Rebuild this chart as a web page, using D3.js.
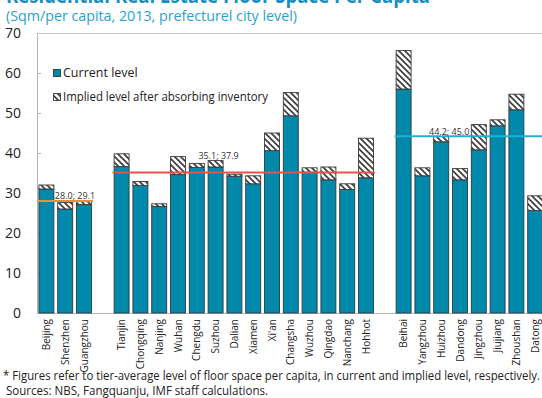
<!DOCTYPE html>
<html>
<head>
<meta charset="utf-8">
<script src="https://cdn.jsdelivr.net/npm/d3@7"></script>
<style>
  html, body { margin: 0; padding: 0; background: #fff; }
  svg { display: block; font-family: "Open Sans", "Noto Sans", sans-serif; }
</style>
</head>
<body>
<svg id="chart" width="542" height="398"></svg>
<script>
// Residential floor space per capita by city, grouped by tier
const cities = [
  "Beijing", "Shenzhen", "Guangzhou",
  "Tianjin", "Chongqing", "Nanjing", "Wuhan", "Chengdu", "Suzhou", "Dalian",
  "Xiamen", "Xi'an", "Changsha", "Wuzhou", "Qingdao", "Nanchang", "Hohhot",
  "Beihai", "Yangzhou", "Huizhou", "Dandong", "Jingzhou", "Jiujiang", "Zhoushan", "Datong"
];
const cityTier = [
  1, 1, 1,
  2, 2, 2, 2, 2, 2, 2, 2, 2, 2, 2, 2, 2, 2,
  3, 3, 3, 3, 3, 3, 3, 3
];
const currentLevel = [
  31.0, 26.0, 27.1,
  36.6, 31.9, 26.6, 34.6, 36.4, 36.5, 34.2, 32.3, 40.6, 49.3, 35.2, 33.3, 30.9, 33.8,
  56.0, 34.3, 42.8, 33.3, 40.8, 46.8, 50.8, 25.6
];
const impliedLevel = [
  32.0, 27.6, 28.0,
  39.8, 32.9, 27.3, 39.1, 37.4, 38.1, 34.7, 34.3, 45.0, 55.1, 36.3, 36.5, 32.3, 43.7,
  65.6, 36.3, 44.1, 36.1, 47.1, 48.3, 54.7, 29.3
];
const tiers = [1, 2, 3];
const tierCurrentAvg = [28.0, 35.1, 44.2];
const tierImpliedAvg = [29.1, 37.9, 45.0];
const tierLabelCity = ["Guangzhou", "Suzhou", "Huizhou"];
const yTicks = [0, 10, 20, 30, 40, 50, 60, 70];

const TEAL = "#0089ab";
const tierColors = ["#f39126", "#e5534b", "#1cb2d6"];

const svg = d3.select("#chart");
const margin = { left: 37, top: 33, bottom: 313 };

// slot keys: cities plus one empty slot between tiers
const slots = [];
cities.forEach((c, i) => {
  if (i > 0 && cityTier[i] !== cityTier[i - 1]) slots.push("__gap" + i);
  slots.push(c);
});

const step = 18.8;
const x = d3.scaleBand()
  .domain(slots)
  .range([margin.left, margin.left + step * slots.length])
  .paddingInner(0.15)
  .paddingOuter(0.075);

const y = d3.scaleLinear().domain([0, 70]).range([margin.bottom, margin.top]);

// hatch pattern for the implied increment
const defs = svg.append("defs");
const pat = defs.append("pattern")
  .attr("id", "hatch")
  .attr("patternUnits", "userSpaceOnUse")
  .attr("width", 6).attr("height", 6);
pat.append("rect").attr("width", 6).attr("height", 6).attr("fill", "#fff");
pat.append("path")
  .attr("d", "M0,0 L6,6 M-1,5 L1,7 M5,-1 L7,1")
  .attr("stroke", "#3a3a3a").attr("stroke-width", 1.6);

// title & subtitle
svg.append("text")
  .attr("x", 6).attr("y", 3)
  .attr("font-size", 21).attr("font-weight", "bold")
  .attr("fill", "#1a8fbf")
  .attr("textLength", 424).attr("lengthAdjust", "spacingAndGlyphs")
  .text("Residential Real Estate Floor Space Per Capita");
svg.append("text")
  .attr("x", 6).attr("y", 21)
  .attr("font-size", 14)
  .attr("fill", "#2a9fd3")
  .attr("textLength", 291).attr("lengthAdjust", "spacingAndGlyphs")
  .text("(Sqm/per capita, 2013, prefecturel city level)");

// plot frame
const xRight = 542;
svg.append("line")
  .attr("x1", margin.left).attr("x2", xRight)
  .attr("y1", margin.top + 0.5).attr("y2", margin.top + 0.5)
  .attr("stroke", "#c9c9c9");
svg.append("line")
  .attr("x1", margin.left + 0.5).attr("x2", margin.left + 0.5)
  .attr("y1", margin.top).attr("y2", margin.bottom)
  .attr("stroke", "#b5b5b5");
svg.append("line")
  .attr("x1", margin.left).attr("x2", xRight)
  .attr("y1", margin.bottom + 0.5).attr("y2", margin.bottom + 0.5)
  .attr("stroke", "#b5b5b5");

// y axis: inner ticks and labels
const yAxis = svg.append("g");
yAxis.selectAll("line.tick").data(yTicks.filter(t => t > 0 && t < 70)).join("line")
  .attr("x1", margin.left).attr("x2", margin.left + 4)
  .attr("y1", d => Math.round(y(d)) + 0.5).attr("y2", d => Math.round(y(d)) + 0.5)
  .attr("stroke", "#b5b5b5");
yAxis.selectAll("text").data(yTicks).join("text")
  .attr("x", 21).attr("y", d => y(d))
  .attr("dy", "0.35em")
  .attr("text-anchor", "end")
  .attr("font-size", 14)
  .attr("fill", "#222")
  .text(d => d);

// bars
const rows = cities.map((c, i) => ({ city: c, cur: currentLevel[i], imp: impliedLevel[i] }));
const bars = svg.append("g");
bars.selectAll("rect.cur").data(rows).join("rect")
  .attr("class", "cur")
  .attr("x", d => x(d.city) + 0.5)
  .attr("width", x.bandwidth() - 1)
  .attr("y", d => y(d.cur))
  .attr("height", d => y(0) - y(d.cur))
  .attr("fill", TEAL)
  .attr("stroke", "#2d3b40").attr("stroke-width", 0.9);
bars.selectAll("rect.imp").data(rows).join("rect")
  .attr("class", "imp")
  .attr("x", d => x(d.city) + 0.5)
  .attr("width", x.bandwidth() - 1)
  .attr("y", d => y(d.imp))
  .attr("height", d => y(d.cur) - y(d.imp))
  .attr("fill", "url(#hatch)")
  .attr("stroke", "#3a3a3a").attr("stroke-width", 0.9);

// tier-average lines and labels
tiers.forEach((t, k) => {
  const members = cities.filter((c, i) => cityTier[i] === t);
  const x0 = x(members[0]) - 1;
  const x1 = t === 3 ? xRight : x(members[members.length - 1]) + x.bandwidth() + 1;
  svg.append("line")
    .attr("x1", x0).attr("x2", x1)
    .attr("y1", y(tierCurrentAvg[k])).attr("y2", y(tierCurrentAvg[k]))
    .attr("stroke", tierColors[k]).attr("stroke-width", 2);
  const li = cities.indexOf(tierLabelCity[k]);
  const offsets = [-9, 3, 8];
  svg.append("text")
    .attr("x", x(tierLabelCity[k]) + x.bandwidth() / 2 + offsets[k])
    .attr("y", y(impliedLevel[li]) - 2)
    .attr("text-anchor", "middle")
    .attr("font-size", 9)
    .attr("fill", "#333")
    .text(tierCurrentAvg[k].toFixed(1) + "; " + tierImpliedAvg[k].toFixed(1));
});

// x category labels (rotated)
svg.append("g").selectAll("text").data(cities).join("text")
  .attr("transform", d => `translate(${x(d) + x.bandwidth() / 2 + 3.5},${margin.bottom + 6}) rotate(-90)`)
  .attr("text-anchor", "end")
  .attr("font-size", 10)
  .attr("fill", "#222")
  .text(d => d);

// legend
const lg = svg.append("g");
lg.append("rect").attr("x", 53.5).attr("y", 69.5).attr("width", 7).attr("height", 7)
  .attr("fill", TEAL).attr("stroke", "#2d3b40").attr("stroke-width", 0.9);
lg.append("text").attr("x", 63).attr("y", 73).attr("dy", "0.35em")
  .attr("font-size", 12.5).attr("fill", "#222").text("Current level");
lg.append("rect").attr("x", 53.5).attr("y", 93.5).attr("width", 7).attr("height", 7)
  .attr("fill", "url(#hatch)").attr("stroke", "#3a3a3a").attr("stroke-width", 0.9);
lg.append("text").attr("x", 63).attr("y", 97).attr("dy", "0.35em")
  .attr("font-size", 12.5).attr("fill", "#222")
  .attr("textLength", 205).attr("lengthAdjust", "spacingAndGlyphs")
  .text("Implied level after absorbing inventory");

// notes
svg.append("text").attr("x", 3).attr("y", 380)
  .attr("font-size", 12).attr("fill", "#222")
  .attr("textLength", 537).attr("lengthAdjust", "spacingAndGlyphs")
  .text("* Figures refer to tier-average level of floor space per capita, in current and implied level, respectively.");
svg.append("text").attr("x", 6).attr("y", 395)
  .attr("font-size", 12).attr("fill", "#222")
  .attr("textLength", 262).attr("lengthAdjust", "spacingAndGlyphs")
  .text("Sources: NBS, Fangquanju, IMF staff calculations.");
</script>
</body>
</html>
